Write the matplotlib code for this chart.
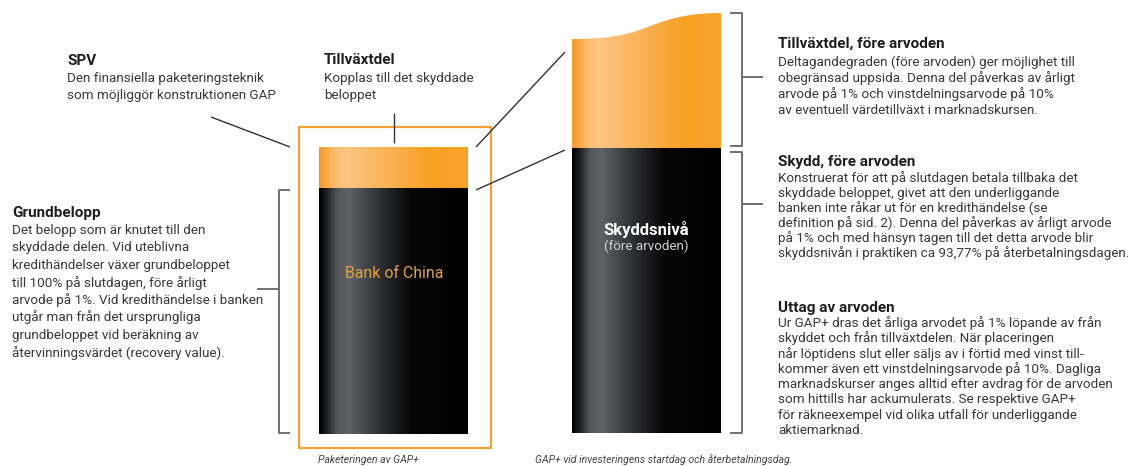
import numpy as np
import matplotlib
matplotlib.use("Agg")
import matplotlib.pyplot as plt
from matplotlib.colors import LinearSegmentedColormap
from matplotlib.patches import Rectangle, PathPatch
from matplotlib.path import Path

plt.rcParams['font.family'] = ['Roboto', 'DejaVu Sans']

# ---------------- text content ----------------
spv_title = "SPV"
spv_lines = ["Den finansiella paketeringsteknik",
             "som möjliggör konstruktionen GAP"]

tillv_title = "Tillväxtdel"
tillv_lines = ["Kopplas till det skyddade", "beloppet"]

grund_title = "Grundbelopp"
grund_lines = ["Det belopp som är knutet till den",
               "skyddade delen. Vid uteblivna",
               "kredithändelser växer grundbeloppet",
               "till 100% på slutdagen, före årligt",
               "arvode på 1%. Vid kredithändelse i banken",
               "utgår man från det ursprungliga",
               "grundbeloppet vid beräkning av",
               "återvinningsvärdet (recovery value)."]

tf_title = "Tillväxtdel, före arvoden"
tf_lines = ["Deltagandegraden (före arvoden) ger möjlighet till",
            "obegränsad uppsida. Denna del påverkas av årligt",
            "arvode på 1% och vinstdelningsarvode på 10%",
            "av eventuell värdetillväxt i marknadskursen."]

sk_title = "Skydd, före arvoden"
sk_lines = ["Konstruerat för att på slutdagen betala tillbaka det",
            "skyddade beloppet, givet att den underliggande",
            "banken inte råkar ut för en kredithändelse (se",
            "definition på sid. 2). Denna del påverkas av årligt arvode",
            "på 1% och med hänsyn tagen till det detta arvode blir",
            "skyddsnivån i praktiken ca 93,77% på återbetalningsdagen."]

ut_title = "Uttag av arvoden"
ut_lines = ["Ur GAP+ dras det årliga arvodet på 1% löpande av från",
            "skyddet och från tillväxtdelen. När placeringen",
            "når löptidens slut eller säljs av i förtid med vinst till-",
            "kommer även ett vinstdelningsarvode på 10%. Dagliga",
            "marknadskurser anges alltid efter avdrag för de arvoden",
            "som hittills har ackumulerats. Se respektive GAP+",
            "för räkneexempel vid olika utfall för underliggande",
            "aktiemarknad."]

left_label = "Bank of China"
right_label = "Skyddsnivå"
right_sublabel = "(före arvoden)"
caption_left = "Paketeringen av GAP+"
caption_right = "GAP+ vid investeringens startdag och återbetalningsdag."

# ---------------- figure ----------------
W, H = 1130, 466
fig = plt.figure(figsize=(W / 100, H / 100), dpi=100)
ax = fig.add_axes([0, 0, 1, 1])
ax.set_xlim(0, W)
ax.set_ylim(H, 0)
ax.axis('off')

TITLE_C = '#1e1e1e'
BODY_C = '#383838'
LINE_C = '#333333'
BRACKET_C = '#666666'
ORANGE = '#F5A033'
BODY_FS = 9.7
TITLE_FS = 11.0

black_stops = [(0.0, '#000000'), (0.05, '#202020'), (0.12, '#55575b'),
               (0.20, '#5f6166'), (0.42, '#2c2d2f'), (0.62, '#060606'),
               (1.0, '#000000')]
orange_stops = [(0.0, '#F39A24'), (0.10, '#FBBC6E'), (0.18, '#FDC682'),
                (0.45, '#FAB358'), (0.75, '#F7A124'), (1.0, '#F8A42C')]


def gradient(x0, x1, y0, y1, stops, clip=None):
    cmap = LinearSegmentedColormap.from_list('g', stops)
    im = ax.imshow(np.linspace(0, 1, 300)[None, :], extent=(x0, x1, y1, y0),
                   aspect='auto', cmap=cmap, interpolation='bilinear', zorder=2)
    if clip is not None:
        im.set_clip_path(clip)
    return im


# left column (packaging)
ax.add_patch(Rectangle((299, 127), 192, 321, fill=False, edgecolor=ORANGE,
                       lw=1.6, zorder=3))
gradient(319, 468, 148, 188.5, orange_stops)
gradient(319, 468, 188, 434, black_stops)

# right column (start / repayment)
gradient(572, 721, 148, 433, black_stops)
verts = [(572, 148.5), (572, 39),
         (605, 39), (625, 36), (648, 27),
         (670, 18), (690, 13), (721, 13),
         (721, 148.5), (572, 148.5)]
codes = [Path.MOVETO, Path.LINETO,
         Path.CURVE4, Path.CURVE4, Path.CURVE4,
         Path.CURVE4, Path.CURVE4, Path.CURVE4,
         Path.LINETO, Path.CLOSEPOLY]
wave = PathPatch(Path(verts, codes), facecolor='none', edgecolor='none',
                 transform=ax.transData)
ax.add_patch(wave)
gradient(572, 721, 10, 148.5, orange_stops, clip=wave)

# leader lines
def line(xs, ys, c=LINE_C, lw=1.0):
    ax.plot(xs, ys, color=c, lw=lw, solid_capstyle='butt', zorder=4)

line([211, 290], [117, 147])
line([394, 394], [113, 143])
line([476, 565], [147, 52])
line([476, 565], [190, 150])

# brackets
line([290, 279, 279, 290], [190, 190, 433, 433], c=BRACKET_C, lw=1.3)
line([257, 279], [289, 289], c=BRACKET_C, lw=1.3)
line([730, 742, 742, 730], [13, 13, 146, 146], c=BRACKET_C, lw=1.3)
line([742, 763], [77, 77], c=BRACKET_C, lw=1.3)
line([730, 742, 742, 730], [152, 152, 433, 433], c=BRACKET_C, lw=1.3)
line([742, 763], [204, 204], c=BRACKET_C, lw=1.3)


def block(x, title_y, title, first_y, spacing, lines, fs=BODY_FS, tfs=TITLE_FS):
    ax.text(x, title_y, title, fontsize=tfs, fontweight='bold', color=TITLE_C,
            ha='left', va='baseline')
    for i, s in enumerate(lines):
        ax.text(x, first_y + i * spacing, s, fontsize=fs, color=BODY_C,
                ha='left', va='baseline')


block(67, 65, spv_title, 82, 16.5, spv_lines)
block(324, 64, tillv_title, 82, 16.5, tillv_lines)
block(12, 217, grund_title, 234, 17.5, grund_lines)
block(778, 48, tf_title, 66, 16.0, tf_lines)
block(778, 166, sk_title, 182, 15.0, sk_lines)
block(778, 312, ut_title, 327, 15.3, ut_lines)

ax.text(394, 273, left_label, fontsize=11.4, color='#E3A13F',
        ha='center', va='center', zorder=5)
ax.text(646, 230, right_label, fontsize=12, fontweight='bold', color='white',
        ha='center', va='center', zorder=5)
ax.text(646, 246, right_sublabel, fontsize=9.6, color='#d0d0d0',
        ha='center', va='center', zorder=5)

ax.text(318, 460, caption_left, fontsize=7.6, style='italic', color='#444444',
        ha='left', va='center')
ax.text(535, 460, caption_right, fontsize=7.6, style='italic', color='#444444',
        ha='left', va='center')

fig.savefig('out.png', dpi=100)
